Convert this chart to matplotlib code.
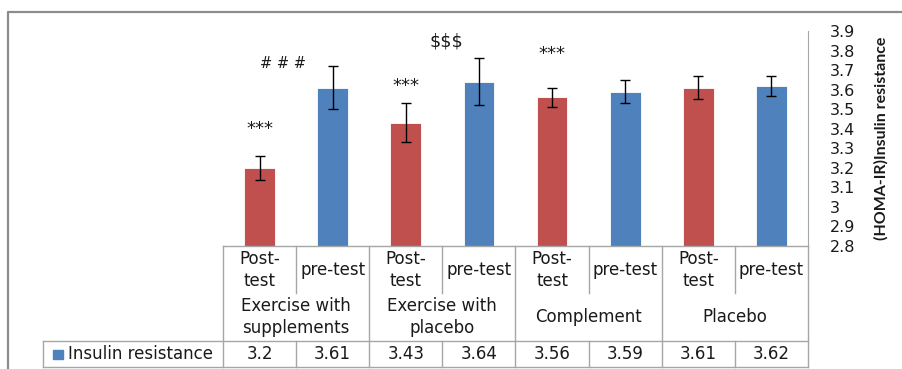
import numpy as np
import matplotlib
matplotlib.use("Agg")
import matplotlib.pyplot as plt
from matplotlib.lines import Line2D
from matplotlib.patches import Rectangle

plt.rcParams['font.family'] = ['DejaVu Sans']

# data
sub_labels = ["Post-\ntest", "pre-test"] * 4
groups = ["Exercise with\nsupplements", "Exercise with\nplacebo", "Complement", "Placebo"]
values = [3.2, 3.61, 3.43, 3.64, 3.56, 3.59, 3.61, 3.62]
errors = [0.06, 0.11, 0.10, 0.12, 0.05, 0.06, 0.06, 0.05]
star_bars = [0, 2, 4]
star_y = [3.435, 3.655, 3.818]
other_marks = ["# # #", "$$$"]
other_x = [0.32, 2.55]
other_y = [3.736, 3.844]
series_name = "Insulin resistance"
y_label = "(HOMA-IR)Insulin resistance"
yticks = [2.8, 2.9, 3, 3.1, 3.2, 3.3, 3.4, 3.5, 3.6, 3.7, 3.8, 3.9]

red = "#C0504D"
blue = "#4F81BD"
grid = "#A6A6A6"
txt = "#1a1a1a"
fs = 12

W, H = 903, 369
fig = plt.figure(figsize=(W / 100, H / 100), dpi=100)

# outer chart border (left + top)
fig.add_artist(Line2D([8 / W, 8 / W, 1], [0, 1 - 12 / H, 1 - 12 / H], color="#8c8c8c", lw=1.6))

ax_l, ax_r, ax_top, ax_bot = 223, 808, 31, 246
ax = fig.add_axes([ax_l / W, 1 - ax_bot / H, (ax_r - ax_l) / W, (ax_bot - ax_top) / H])
x = np.arange(len(values))
colors = [red if i % 2 == 0 else blue for i in x]
ax.bar(x, values, width=0.42, color=colors, edgecolor="white", linewidth=0.6,
       yerr=errors, error_kw=dict(ecolor="black", elinewidth=1.0, capsize=3.5, capthick=1.0))
ax.set_xlim(-0.5, len(values) - 0.5)
ax.set_ylim(2.8, 3.9)
ax.set_yticks(yticks)
ax.set_yticklabels([f"{v:g}" for v in yticks])
ax.yaxis.tick_right()
ax.tick_params(axis="y", length=0, pad=16, labelsize=11.5, labelcolor=txt)
ax.set_xticks([])
for s in ["left", "top", "bottom"]:
    ax.spines[s].set_visible(False)
ax.spines["right"].set_color(grid)

# asterisks sit high in the text box, so shift the baseline down a bit
for i, yv in zip(star_bars, star_y):
    ax.text(i, yv - 0.06, "***", ha="center", va="baseline", fontsize=13, color=txt)
ax.text(other_x[0], other_y[0], other_marks[0], ha="center", va="center", fontsize=10.5, color=txt)
ax.text(other_x[1], other_y[1], other_marks[1], ha="center", va="center", fontsize=12.5, color=txt)

fig.text(881 / W, 1 - 138 / H, y_label, rotation=90, ha="center", va="center",
         fontsize=11.5, fontweight="bold", color=txt, family=["Lato", "DejaVu Sans"])

# data table below the axis
colw = (ax_r - ax_l) / len(values)
t_left, t_bot = 43, 367
tax = fig.add_axes([t_left / W, 1 - t_bot / H, (ax_r - t_left) / W, (t_bot - ax_bot) / H])
tax.set_xlim(-0.5 - (ax_l - t_left) / colw, len(values) - 0.5)
tax.set_ylim(t_bot - ax_bot, 0)
tax.axis("off")
r1, r3 = 47, 94.5
bottom = t_bot - ax_bot
lk = dict(color=grid, lw=1.0, clip_on=False)
tax.plot([-0.5, len(values) - 0.5], [0, 0], **lk)
for k in range(len(values) + 1):
    xb = k - 0.5
    if k % 2 == 0:
        tax.plot([xb, xb], [0, bottom], **lk)
    else:
        tax.plot([xb, xb], [0, r1], **lk)
        tax.plot([xb, xb], [r3, bottom], **lk)
leg_left = -0.5 - (ax_l - t_left) / colw
tax.plot([leg_left, len(values) - 0.5], [r3, r3], **lk)
tax.plot([leg_left, len(values) - 0.5], [bottom, bottom], **lk)
tax.plot([leg_left, leg_left], [r3, bottom], **lk)

for i, lab in enumerate(sub_labels):
    tax.text(i, 24, lab, ha="center", va="center", fontsize=fs, color=txt, linespacing=1.35)
for g, lab in enumerate(groups):
    tax.text(2 * g + 0.5, 71, lab, ha="center", va="center", fontsize=fs, color=txt, linespacing=1.35)
for i, v in enumerate(values):
    tax.text(i, 108, f"{v:g}", ha="center", va="center", fontsize=fs, color=txt)

tax.add_patch(Rectangle((leg_left + 10 / colw, 103.5), 10 / colw, 9, color=blue, clip_on=False))
tax.text(leg_left + 25 / colw, 108, series_name, ha="left", va="center", fontsize=fs, color=txt)

fig.savefig("out.png", dpi=100)
